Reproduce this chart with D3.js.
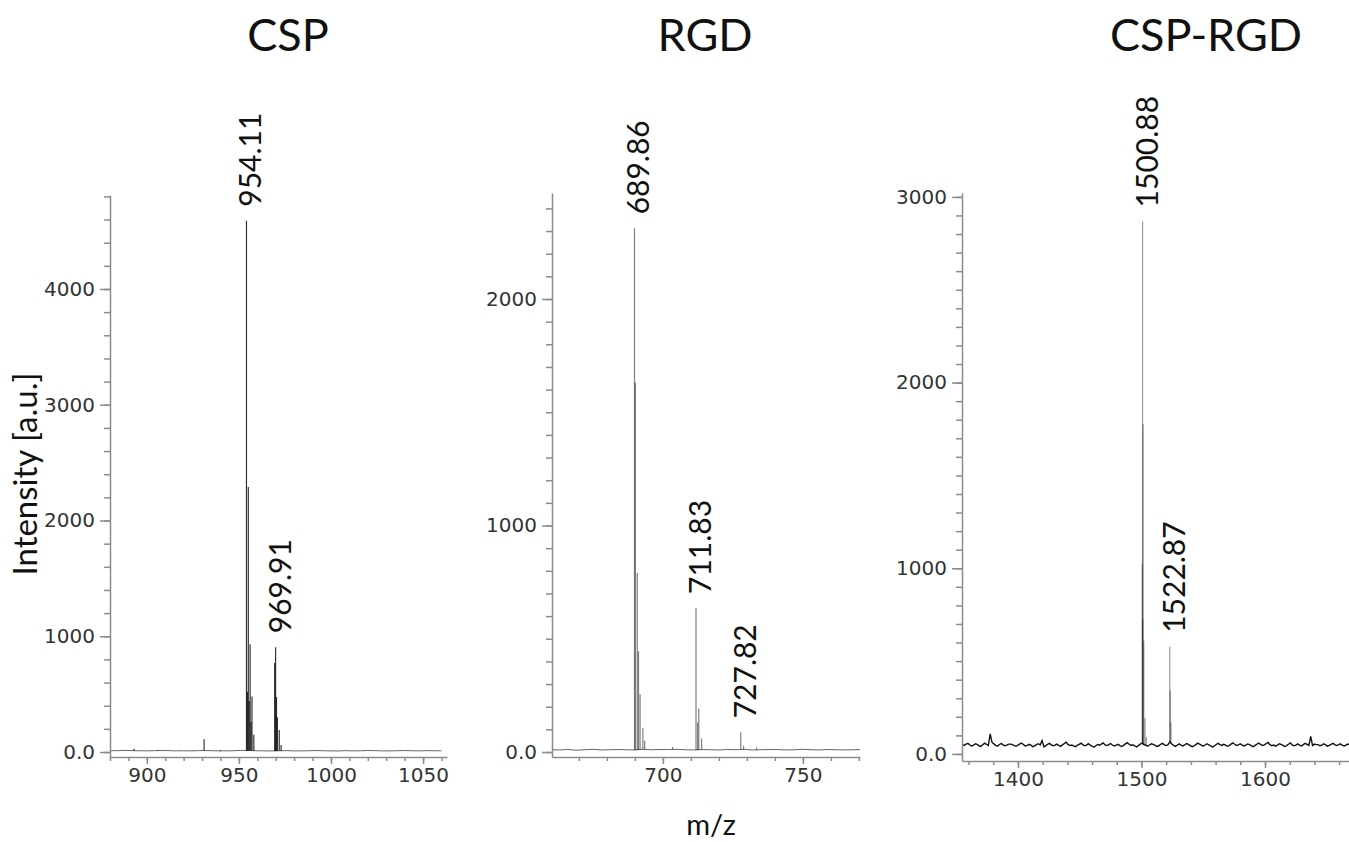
<!DOCTYPE html>
<html>
<head>
<meta charset="utf-8">
<script src="https://cdn.jsdelivr.net/npm/d3@7"></script>
<style>
    body { margin: 0; background: #fff; }
    svg { display: block; font-family: Lato, "Open Sans", sans-serif; }
    .tick text { font-family: "DejaVu Sans", sans-serif; font-size: 20px; fill: #333; }
    .tick line, .domain { stroke: #8c8c8c; stroke-width: 1.5; }
</style>
</head>
<body>
<div id="chart"></div>
<script>
// MALDI spectra for CSP, RGD and the CSP-RGD conjugate

const titles = ["CSP", "RGD", "CSP-RGD"];

// axis ranges
const cspXDomain = [880, 1063];
const cspYDomain = [-43, 4812];
const rgdXDomain = [660.4, 770.4];
const rgdYDomain = [-22, 2468];
const conjXDomain = [1354.7, 1668];
const conjYDomain = [-38, 3021];

// major ticks
const cspXTicks = [900, 950, 1000, 1050];
const cspYTicks = [0, 1000, 2000, 3000, 4000];
const rgdXTicks = [700, 750];
const rgdYTicks = [0, 1000, 2000];
const conjXTicks = [1400, 1500, 1600];
const conjYTicks = [0, 1000, 2000, 3000];

// peaks [m/z, intensity]
const cspPeaks = [
    [893, 28], [906, 18], [931.1, 110], [940, 18],
    [954.11, 4590], [954.6, 520], [955.11, 2290], [955.6, 440],
    [956.1, 930], [956.6, 260], [957.1, 480], [958.1, 150],
    [969.4, 770], [969.91, 905], [970.4, 475], [970.9, 300], [971.9, 190], [972.9, 60]
];
const rgdPeaks = [
    [689.86, 2312], [690.2, 1630], [690.86, 790], [691.3, 445], [691.86, 255],
    [692.86, 105], [693.5, 50], [703.5, 22],
    [711.83, 636], [712.4, 130], [712.83, 192], [713.83, 60],
    [727.82, 87], [728.82, 28], [733.5, 20]
];
const conjPeaks = [
    [1500.6, 1026], [1500.88, 2868], [1501.0, 726], [1501.3, 1775], [1501.88, 610],
    [1502.88, 192], [1503.9, 90],
    [1522.87, 577], [1523.3, 342], [1523.87, 171]
];

// labelled peaks
const cspLabels = [954.11, 969.91];
const rgdLabels = [689.86, 711.83, 727.82];
const conjLabels = [1500.88, 1522.87];

// baseline traces, sampled from a start m/z at a fixed step
const cspBaseStart = 880, cspBaseStep = 4;
const cspBaseline = [
    11, 12, 14, 12, 11, 10, 12, 13, 12, 10, 11, 10, 12, 13, 11, 10, 10, 12, 14, 13,
    11, 10, 9, 11, 12, 10, 10, 11, 13, 11, 10, 9, 12, 10, 11, 13, 12, 10, 10, 11,
    13, 11, 10, 12, 11, 10
];
const rgdBaseStart = 660, rgdBaseStep = 3;
const rgdBaseline = [
    10, 9, 11, 8, 10, 12, 9, 10, 11, 10, 9, 12, 10, 11, 11, 12, 10, 9, 11, 10,
    9, 11, 10, 12, 9, 10, 11, 11, 9, 10, 12, 10, 9, 11, 10, 9, 10, 11
];
const conjBaseStart = 1355, conjBaseStep = 1.5;
const conjBaseline = [
    50, 46, 53, 57, 48, 43, 47, 55, 51, 44, 40, 49, 58, 52, 45, 108, 62, 54, 46, 42,
    51, 56, 49, 44, 47, 53, 53, 50, 45, 41, 48, 54, 59, 50, 43, 46, 52, 47, 39, 44,
    50, 55, 48, 72, 38, 45, 51, 57, 49, 44, 47, 53, 46, 41, 49, 56, 63, 51, 45, 48,
    43, 39, 46, 52, 58, 50, 44, 48, 55, 47, 42, 36, 44, 51, 47, 53, 60, 49, 45, 50,
    56, 48, 43, 47, 52, 45, 40, 46, 54, 61, 52, 46, 49, 44, 38, 45, 53, 58, 50, 47,
    42, 48, 55, 51, 46, 40, 44, 52, 57, 49, 45, 50, 66, 53, 46, 41, 47, 54, 48, 43,
    49, 56, 51, 45, 39, 44, 50, 58, 53, 47, 42, 48, 55, 49, 44, 37, 43, 51, 57, 50,
    46, 52, 47, 41, 45, 53, 60, 52, 46, 49, 55, 48, 43, 47, 54, 50, 44, 39, 46, 53,
    58, 51, 45, 49, 56, 62, 50, 44, 48, 42, 47, 55, 51, 46, 40, 45, 52, 59, 49, 44,
    48, 54, 47, 43, 50, 57, 52, 46, 95, 45, 53, 50, 50, 44, 48, 55, 49, 42, 46, 52,
    57, 50, 45, 49, 54, 47, 43, 48, 53, 50
];

const width = 1349;
const height = 842;

// panel layout
const panels = [
    { title: titles[0], titleX: 288, left: 110, right: 447, top: 195, bottom: 757,
      xDomain: cspXDomain, yDomain: cspYDomain, xTicks: cspXTicks, yTicks: cspYTicks,
      xMinor: 10, yMinor: 200, peaks: cspPeaks, labels: cspLabels,
      baseline: cspBaseline, baseStart: cspBaseStart, baseStep: cspBaseStep,
      baseColor: "#666", baseWidth: 1, stickOpacity: 0.8 },
    { title: titles[1], titleX: 705, left: 552, right: 860, top: 193, bottom: 757,
      xDomain: rgdXDomain, yDomain: rgdYDomain, xTicks: rgdXTicks, yTicks: rgdYTicks,
      xMinor: 10, yMinor: 100, peaks: rgdPeaks, labels: rgdLabels,
      baseline: rgdBaseline, baseStart: rgdBaseStart, baseStep: rgdBaseStep,
      baseColor: "#666", baseWidth: 1, stickOpacity: 0.5 },
    { title: titles[2], titleX: 1206, left: 962, right: 1349, top: 193, bottom: 761,
      xDomain: conjXDomain, yDomain: conjYDomain, xTicks: conjXTicks, yTicks: conjYTicks,
      xMinor: 20, yMinor: 100, peaks: conjPeaks, labels: conjLabels,
      baseline: conjBaseline, baseStart: conjBaseStart, baseStep: conjBaseStep,
      baseColor: "#111", baseWidth: 1.4, stickOpacity: 0.4 }
];

const svg = d3.select("#chart")
    .append("svg")
    .attr("width", width)
    .attr("height", height);

const fmt = d => d === 0 ? "0.0" : d;

panels.forEach((p, i) => {
    const x = d3.scaleLinear().domain(p.xDomain).range([p.left, p.right]);
    const y = d3.scaleLinear().domain(p.yDomain).range([p.bottom, p.top]);

    // title
    svg.append("text")
        .attr("x", p.titleX)
        .attr("y", 51)
        .attr("text-anchor", "middle")
        .attr("font-size", 45)
        .attr("fill", "#111")
        .text(p.title);

    const clipId = "clip" + i;
    svg.append("clipPath").attr("id", clipId)
        .append("rect")
        .attr("x", p.left).attr("y", p.top)
        .attr("width", p.right - p.left).attr("height", p.bottom - p.top);

    const plot = svg.append("g").attr("clip-path", `url(#${clipId})`);

    // baseline trace
    const basePts = p.baseline.map((v, k) => [p.baseStart + k * p.baseStep, v]);
    plot.append("path")
        .datum(basePts)
        .attr("fill", "none")
        .attr("stroke", p.baseColor)
        .attr("stroke-width", p.baseWidth)
        .attr("d", d3.line().x(d => x(d[0])).y(d => y(d[1])));

    const baseAt = mz => {
        const k = Math.max(0, Math.min(p.baseline.length - 1, Math.round((mz - p.baseStart) / p.baseStep)));
        return p.baseline[k];
    };

    // peak sticks
    plot.append("g")
        .selectAll("line")
        .data(p.peaks)
        .join("line")
        .attr("x1", d => x(d[0]))
        .attr("x2", d => x(d[0]))
        .attr("y1", d => y(baseAt(d[0])))
        .attr("y2", d => y(d[1]))
        .attr("stroke", "#000")
        .attr("stroke-opacity", p.stickOpacity)
        .attr("stroke-width", 1.2);

    // peak labels
    const peakMap = new Map(p.peaks);
    svg.append("g")
        .selectAll("text")
        .data(p.labels)
        .join("text")
        .attr("transform", d => `translate(${x(d) + 15},${y(peakMap.get(d)) - 14}) rotate(-90)`)
        .attr("font-size", 30)
        .attr("fill", "#111")
        .text(d => d.toFixed(2));

    // minor ticks
    svg.append("g")
        .attr("transform", `translate(${p.left},0)`)
        .call(d3.axisLeft(y).tickValues(d3.range(0, p.yDomain[1], p.yMinor)).tickSize(6).tickFormat("").tickSizeOuter(0))
        .call(g => g.select(".domain").remove());
    svg.append("g")
        .attr("transform", `translate(0,${p.bottom})`)
        .call(d3.axisBottom(x).tickValues(d3.range(Math.ceil(p.xDomain[0] / p.xMinor) * p.xMinor, p.xDomain[1], p.xMinor)).tickSize(4).tickFormat("").tickSizeOuter(0))
        .call(g => g.select(".domain").remove());

    // major axes
    svg.append("g")
        .attr("transform", `translate(${p.left},0)`)
        .call(d3.axisLeft(y).tickValues(p.yTicks).tickSize(10).tickPadding(5).tickFormat(fmt).tickSizeOuter(0));
    svg.append("g")
        .attr("transform", `translate(0,${p.bottom})`)
        .call(d3.axisBottom(x).tickValues(p.xTicks).tickSize(7).tickPadding(4).tickFormat(d => d).tickSizeOuter(0));
});

// shared axis titles
svg.append("text")
    .attr("transform", "translate(37,474) rotate(-90)")
    .attr("text-anchor", "middle")
    .attr("font-size", 33)
    .attr("fill", "#111")
    .text("Intensity [a.u.]");

svg.append("text")
    .attr("x", 711)
    .attr("y", 835)
    .attr("text-anchor", "middle")
    .attr("font-size", 29)
    .attr("fill", "#111")
    .text("m/z");
</script>
</body>
</html>
